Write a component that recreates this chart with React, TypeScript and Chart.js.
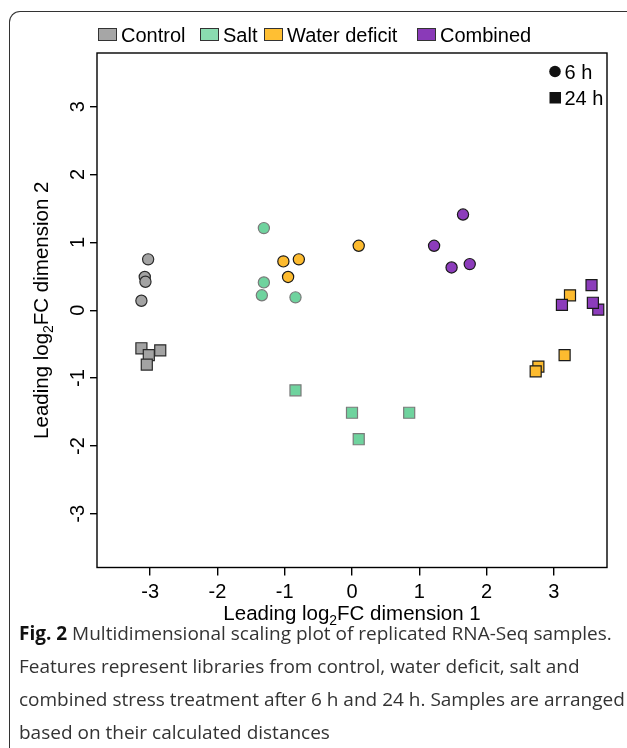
import React, { useEffect, useRef } from "react";
import { Chart, registerables } from "chart.js";

Chart.register(...registerables);

// ---- data ----
const groups = ["Control", "Salt", "Water deficit", "Combined"];
const groupColors = ["#a3a3a3", "#6fd39e", "#fdbb2f", "#8c3cbb"];
const legendColors = ["#a6a6a6", "#8adcb0", "#ffbf33", "#8a3ab8"];
const borderColors = ["#2a2a2a", "#7a7a7a", "#1a1a1a", "#1a1a1a"];
const legendOffsets = [1, 103, 167, 320];

const control6hX = [-3.03, -3.08, -3.07, -3.13];
const control6hY = [0.75, 0.49, 0.42, 0.14];
const control24hX = [-3.13, -3.02, -2.85, -3.05];
const control24hY = [-0.56, -0.66, -0.59, -0.8];

const salt6hX = [-1.31, -1.31, -1.34, -0.84];
const salt6hY = [1.21, 0.41, 0.22, 0.19];
const salt24hX = [-0.84, 0.0, 0.85, 0.1];
const salt24hY = [-1.18, -1.51, -1.51, -1.9];

const water6hX = [-1.02, -0.79, -0.95, 0.1];
const water6hY = [0.72, 0.75, 0.49, 0.95];
const water24hX = [3.24, 3.16, 2.77, 2.73];
const water24hY = [0.22, -0.66, -0.83, -0.9];

const combined6hX = [1.65, 1.22, 1.48, 1.75];
const combined6hY = [1.41, 0.95, 0.63, 0.68];
const combined24hX = [3.56, 3.12, 3.66, 3.58];
const combined24hY = [0.37, 0.08, 0.01, 0.11];

const xTicks = [-3, -2, -1, 0, 1, 2, 3];
const yTicks = [-3, -2, -1, 0, 1, 2, 3];
const axisMin = -3.79;
const axisMax = 3.79;

const timeLabels = ["6 h", "24 h"];

const captionLines = [
  "Features represent libraries from control, water deficit, salt and",
  "combined stress treatment after 6 h and 24 h. Samples are arranged",
  "based on their calculated distances",
];

const pts = (xs: number[], ys: number[]) => xs.map((x, i) => ({ x, y: ys[i] }));

const FONT = '"Liberation Sans", Arial, Helvetica, sans-serif';

function drawSubTitle(ctx: CanvasRenderingContext2D, pre: string, sub: string, post: string, size: number) {
  ctx.font = `${size}px ${FONT}`;
  const w1 = ctx.measureText(pre).width;
  const w3 = ctx.measureText(post).width;
  ctx.font = `${size * 0.68}px ${FONT}`;
  const w2 = ctx.measureText(sub).width;
  const total = w1 + w2 + w3;
  let x = -total / 2;
  ctx.textAlign = "left";
  ctx.textBaseline = "alphabetic";
  ctx.font = `${size}px ${FONT}`;
  ctx.fillText(pre, x, 0);
  x += w1;
  ctx.font = `${size * 0.68}px ${FONT}`;
  ctx.fillText(sub, x, size * 0.27);
  x += w2;
  ctx.font = `${size}px ${FONT}`;
  ctx.fillText(post, x, 0);
}

const rPlotDecor = {
  id: "rPlotDecor",
  afterDraw(chart: any) {
    const { ctx, chartArea: a, scales } = chart;
    const xs = scales.x;
    const ys = scales.y;
    ctx.save();
    // frame box
    ctx.strokeStyle = "#000";
    ctx.lineWidth = 1.4;
    ctx.strokeRect(a.left, a.top, a.right - a.left, a.bottom - a.top);

    ctx.fillStyle = "#000";
    ctx.font = `20px ${FONT}`;
    // x tick labels
    ctx.textAlign = "center";
    ctx.textBaseline = "alphabetic";
    xTicks.forEach((v) => {
      const lab = v < 0 ? "-" + Math.abs(v) : String(v);
      ctx.fillText(lab, xs.getPixelForValue(v), a.bottom + 30);
    });
    // y tick labels (rotated)
    yTicks.forEach((v) => {
      const lab = v < 0 ? "-" + Math.abs(v) : String(v);
      ctx.save();
      ctx.translate(a.left - 13, ys.getPixelForValue(v));
      ctx.rotate(-Math.PI / 2);
      ctx.textAlign = "center";
      ctx.fillText(lab, 0, 0);
      ctx.restore();
    });
    // x title
    ctx.save();
    ctx.translate((a.left + a.right) / 2, a.bottom + 52);
    drawSubTitle(ctx, "Leading log", "2", "FC dimension 1", 20.5);
    ctx.restore();
    // y title
    ctx.save();
    ctx.translate(47.5, (a.top + a.bottom) / 2);
    ctx.rotate(-Math.PI / 2);
    drawSubTitle(ctx, "Leading log", "2", "FC dimension 2", 20.5);
    ctx.restore();

    // top legend (groups)
    ctx.font = `20px ${FONT}`;
    ctx.textAlign = "left";
    ctx.textBaseline = "alphabetic";
    const ly = 28;
    groups.forEach((g, i) => {
      const lx = a.left + legendOffsets[i];
      ctx.fillStyle = legendColors[i];
      ctx.fillRect(lx, ly, 19, 13);
      ctx.strokeStyle = "#333";
      ctx.lineWidth = 1;
      ctx.strokeRect(lx + 0.5, ly + 0.5, 18, 12);
      ctx.fillStyle = "#000";
      ctx.fillText(g, lx + 23, ly + 14);
    });

    // inner legend (time points)
    ctx.fillStyle = "#111";
    const ix = a.right - 58;
    ctx.beginPath();
    ctx.arc(ix + 6, a.top + 18.5, 5.8, 0, Math.PI * 2);
    ctx.fill();
    ctx.fillRect(ix + 0.5, a.top + 39, 11.5, 11.5);
    ctx.fillStyle = "#000";
    ctx.fillText(timeLabels[0], ix + 15.5, a.top + 26);
    ctx.fillText(timeLabels[1], ix + 15.5, a.top + 52);
    ctx.restore();
  },
};

function mk(label: string, data: any[], gi: number, square: boolean, order: number) {
  return {
    label,
    data,
    order,
    backgroundColor: groupColors[gi],
    borderColor: borderColors[gi],
    borderWidth: 1.2,
    pointStyle: square ? "rect" : "circle",
    pointRadius: square ? 7.8 : 5.6,
    pointHoverRadius: square ? 7.8 : 5.6,
  };
}

export default function App() {
  const ref = useRef<HTMLCanvasElement | null>(null);

  useEffect(() => {
    if (!ref.current) return;
    const chart = new Chart(ref.current, {
      type: "scatter",
      data: {
        datasets: [
          mk("Control 6 h", pts(control6hX, control6hY), 0, false, 8),
          mk("Control 24 h", pts(control24hX, control24hY), 0, true, 7),
          mk("Salt 6 h", pts(salt6hX, salt6hY), 1, false, 6),
          mk("Salt 24 h", pts(salt24hX, salt24hY), 1, true, 5),
          mk("Water deficit 6 h", pts(water6hX, water6hY), 2, false, 4),
          mk("Water deficit 24 h", pts(water24hX, water24hY), 2, true, 3),
          mk("Combined 6 h", pts(combined6hX, combined6hY), 3, false, 2),
          mk("Combined 24 h", pts(combined24hX, combined24hY), 3, true, 1),
        ],
      },
      options: {
        animation: false,
        responsive: false,
        maintainAspectRatio: false,
        events: [],
        layout: { padding: { top: 53, right: 20, left: 0, bottom: 0 } },
        plugins: { legend: { display: false }, tooltip: { enabled: false } },
        scales: {
          x: {
            type: "linear",
            min: axisMin,
            max: axisMax,
            afterBuildTicks: (s: any) => {
              s.ticks = xTicks.map((v) => ({ value: v }));
            },
            afterFit: (s: any) => {
              s.height = 640 - 567.5;
            },
            grid: { drawOnChartArea: false, drawTicks: true, tickLength: 8, color: "#000", lineWidth: 1.4 },
            border: { display: false },
            ticks: { color: "rgba(0,0,0,0)" },
          },
          y: {
            type: "linear",
            min: axisMin,
            max: axisMax,
            afterBuildTicks: (s: any) => {
              s.ticks = yTicks.map((v) => ({ value: v }));
            },
            afterFit: (s: any) => {
              s.width = 97;
            },
            grid: { drawOnChartArea: false, drawTicks: true, tickLength: 7, color: "#000", lineWidth: 1.4 },
            border: { display: false },
            ticks: { color: "rgba(0,0,0,0)" },
          },
        },
      },
      plugins: [rPlotDecor],
    });
    return () => chart.destroy();
  }, []);

  return (
    <div style={{ position: "absolute", left: 0, top: 0, width: 627, height: 748, overflow: "hidden", background: "#fff" }}>
      <div
        style={{
          position: "absolute",
          left: 9,
          top: 11,
          width: 800,
          height: 900,
          borderLeft: "1.5px solid #333",
          borderTop: "1.5px solid #333",
          borderTopLeftRadius: 11,
        }}
      />
      <canvas ref={ref} width={627} height={640} style={{ position: "absolute", left: 0, top: 0, width: 627, height: 640 }} />
      <div
        style={{
          position: "absolute",
          left: 19,
          top: 617,
          fontFamily: '"Open Sans", "Noto Sans", sans-serif',
          fontSize: 19,
          lineHeight: "33px",
          color: "#333",
          whiteSpace: "nowrap",
        }}
      >
        <div>
          <span style={{ fontWeight: 700, color: "#111" }}>Fig. 2</span> Multidimensional scaling plot of replicated RNA-Seq samples.
        </div>
        {captionLines.map((l, i) => (
          <div key={i}>{l}</div>
        ))}
      </div>
    </div>
  );
}
